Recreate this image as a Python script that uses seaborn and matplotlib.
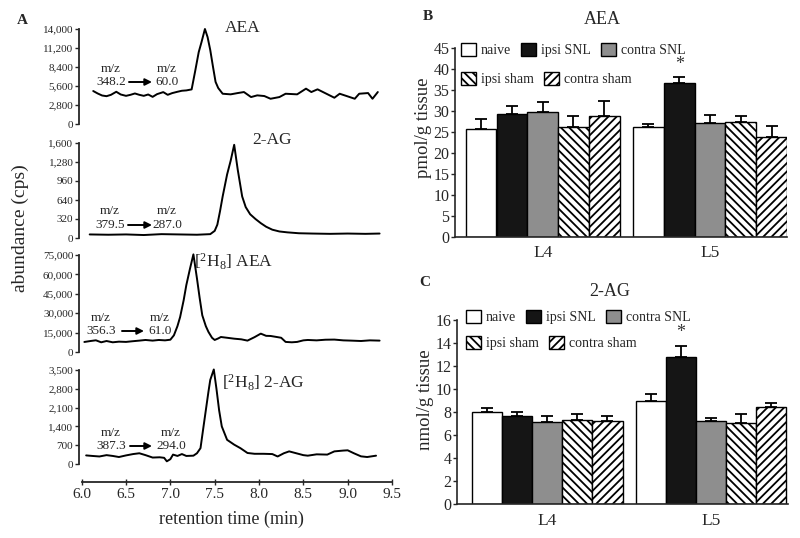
import numpy as np
import pandas as pd
import seaborn as sns
import matplotlib.pyplot as plt
from matplotlib.patches import Patch
from matplotlib.ticker import FuncFormatter

W, H = 800, 538

# ---- panel A: chromatograms (retention time in min, abundance in cps) ----
aea_t = [6.13, 6.18, 6.23, 6.28, 6.33, 6.39, 6.44, 6.50, 6.55, 6.60, 6.65, 6.70,
         6.75, 6.80, 6.85, 6.92, 6.97, 7.02, 7.08, 7.13, 7.18, 7.24, 7.28, 7.32,
         7.35, 7.39, 7.42, 7.45, 7.48, 7.51, 7.54, 7.59, 7.68, 7.76, 7.83, 7.91,
         7.98, 8.06, 8.13, 8.23, 8.30, 8.43, 8.53, 8.59, 8.66, 8.76, 8.85, 8.91,
         9.00, 9.08, 9.13, 9.23, 9.28, 9.34]
aea_cps = [4860, 4500, 4200, 4100, 4300, 4750, 4350, 4150, 4300, 4500, 4300, 4150,
           4350, 4000, 4400, 4700, 4300, 4550, 4750, 4900, 4950, 5100, 7800, 10600,
           12000, 14000, 12800, 10900, 8500, 6200, 5300, 4460, 4370, 4560, 4710, 3970,
           4220, 4120, 3720, 3970, 4460, 4370, 5210, 4710, 5110, 4460, 3870, 4460,
           4070, 3720, 4460, 4560, 3720, 4710]

ag_t = [6.09, 6.30, 6.50, 6.70, 6.90, 7.10, 7.30, 7.45, 7.50, 7.53, 7.56, 7.59,
        7.64, 7.68, 7.72, 7.76, 7.81, 7.85, 7.90, 7.96, 8.02, 8.08, 8.15, 8.23,
        8.32, 8.45, 8.60, 8.80, 9.00, 9.20, 9.36]
ag_cps = [60, 55, 60, 50, 65, 60, 55, 65, 120, 225, 450, 700,
          1070, 1300, 1570, 1150, 700, 520, 400, 320, 250, 190, 140, 110,
          95, 80, 75, 70, 75, 70, 75]

d_aea_t = [6.03, 6.10, 6.16, 6.22, 6.28, 6.35, 6.42, 6.50, 6.57, 6.65, 6.72, 6.80,
           6.87, 6.94, 7.00, 7.04, 7.08, 7.11, 7.15, 7.18, 7.22, 7.26, 7.30, 7.33,
           7.36, 7.40, 7.43, 7.47, 7.50, 7.54, 7.57, 7.64, 7.72, 7.80, 7.87, 7.95,
           8.02, 8.08, 8.13, 8.20, 8.25, 8.30, 8.37, 8.43, 8.50, 8.55, 8.65, 8.75,
           8.85, 8.95, 9.04, 9.15, 9.25, 9.36]
d_aea_cps = [7760, 8500, 9050, 7500, 8500, 7500, 8000, 7800, 8300, 8800, 9300, 8800,
             9300, 9000, 9500, 12900, 20000, 27000, 40000, 51700, 64000, 75500, 56900, 42000,
             28400, 20000, 15500, 11000, 9300, 10500, 11600, 11000, 10300, 9800, 8800, 11500,
             14200, 12500, 12400, 11600, 11000, 7800, 7500, 7800, 9000, 9300, 9000, 9500,
             9600, 9000, 8800, 8500, 9000, 8800]

d_ag_t = [6.05, 6.12, 6.20, 6.28, 6.35, 6.42, 6.50, 6.58, 6.65, 6.72, 6.80, 6.88,
          6.93, 6.96, 7.00, 7.03, 7.08, 7.13, 7.18, 7.26, 7.30, 7.34, 7.37, 7.40,
          7.43, 7.45, 7.49, 7.52, 7.55, 7.58, 7.64, 7.72, 7.79, 7.87, 7.95, 8.05,
          8.15, 8.21, 8.28, 8.34, 8.42, 8.50, 8.55, 8.65, 8.77, 8.85, 8.95, 9.00,
          9.07, 9.15, 9.22, 9.32]
d_ag_cps = [320, 300, 280, 330, 300, 260, 320, 370, 400, 330, 240, 250,
            230, 100, 180, 350, 300, 370, 300, 310, 400, 590, 1300, 2000,
            2700, 3130, 3520, 2800, 2000, 1400, 900, 720, 590, 410, 380, 380,
            370, 280, 400, 470, 400, 330, 310, 360, 350, 470, 500, 510,
            400, 285, 260, 310]

trace_titles = ["AEA", "2-AG",
                r"[$\mathregular{^2}$H$\mathregular{_8}$] AEA",
                r"[$\mathregular{^2}$H$\mathregular{_8}$] 2-AG"]
trace_ymax = [14000, 1600, 75000, 3500]
precursor = ["348.2", "379.5", "356.3", "387.3"]
product = ["60.0", "287.0", "61.0", "294.0"]

# ---- panels B and C: bars ----
groups = ["naive", "ipsi SNL", "contra SNL", "ipsi sham", "contra sham"]
levels = ["L4", "L5"]
aea_l4 = [25.8, 29.3, 29.7, 26.3, 28.9]
aea_l5 = [26.3, 36.8, 27.3, 27.4, 23.9]
aea_l4_err = [2.3, 1.9, 2.6, 2.6, 3.5]
aea_l5_err = [0.7, 1.4, 1.8, 1.5, 2.6]
ag2_l4 = [8.0, 7.7, 7.18, 7.33, 7.24]
ag2_l5 = [8.98, 12.78, 7.24, 7.1, 8.49]
ag2_l4_err = [0.4, 0.35, 0.52, 0.52, 0.46]
ag2_l5_err = [0.61, 1.0, 0.29, 0.75, 0.34]

face = {"naive": "white", "ipsi SNL": "#151515", "contra SNL": "#8e8e8e",
        "ipsi sham": "white", "contra sham": "white"}
hatch = {"naive": "", "ipsi SNL": "", "contra SNL": "",
         "ipsi sham": "\\\\\\\\", "contra sham": "////"}

sns.set_style("ticks")
plt.rcParams["font.family"] = ["Liberation Serif", "DejaVu Serif"]
plt.rcParams["mathtext.fontset"] = "custom"
plt.rcParams["mathtext.rm"] = "Liberation Serif"
plt.rcParams["hatch.linewidth"] = 1.3


def fx(x):
    return x / W


def fy(y):
    return 1 - y / H


def box(left, top, right, bottom):
    return [fx(left), fy(bottom), (right - left) / W, (bottom - top) / H]


fig = plt.figure(figsize=(8, 5.38), dpi=100)

# panel A
tops = [29, 143, 255, 370]
bottoms = [124, 238, 352, 464]
traces = [(aea_t, aea_cps), (ag_t, ag_cps), (d_aea_t, d_aea_cps), (d_ag_t, d_ag_cps)]
title_pos = [(243, 28, "center"), (272, 140, "center"), (194, 262, "left"), (222, 383, "left")]
mz_pos = [(111, 69, 82, 129, 152, 167),
          (110, 211, 225, 128, 152, 167),
          (101, 318, 331, 122, 144, 160),
          (111, 433, 446, 130, 152, 171)]
comma = FuncFormatter(lambda v, p: f"{v:,.0f}")

for i, (t, v) in enumerate(traces):
    ax = fig.add_axes(box(81.7, tops[i], 392, bottoms[i]))
    sns.lineplot(x=t, y=v, ax=ax, color="black", linewidth=1.4)
    for ln in ax.lines:
        ln.set_clip_on(False)
    ymax = trace_ymax[i]
    ax.set_xlim(6.0, 9.5)
    ax.set_ylim(0, ymax)
    ax.set_yticks(np.linspace(0, ymax, 6))
    ax.yaxis.set_major_formatter(comma)
    ax.tick_params(axis="y", direction="out", length=3, width=1, labelsize=8, pad=1)
    ax.spines["left"].set_position(("outward", 2))
    ax.spines["left"].set_linewidth(1.3)
    ax.spines["top"].set_visible(False)
    ax.spines["right"].set_visible(False)
    ax.set_xlabel("")
    ax.set_ylabel("")
    if i < 3:
        ax.spines["bottom"].set_visible(False)
        ax.set_xticks([])
    else:
        ax.spines["bottom"].set_position(("outward", 13))
        ax.spines["bottom"].set_linewidth(1.3)
        ax.set_xticks(np.arange(6.0, 9.51, 0.5))
        ax.xaxis.set_major_formatter(FuncFormatter(lambda v, p: f"{v:.1f}"))
        ax.tick_params(axis="x", direction="inout", length=5, width=1, labelsize=11, pad=2)
    tx, ty, ha = title_pos[i]
    fig.text(fx(tx), fy(ty), trace_titles[i], ha=ha, va="center", fontsize=12.5)
    xa, y1, y2, a0, a1, xb = mz_pos[i]
    fig.text(fx(xa), fy(y1), "m/z", ha="center", va="center", fontsize=9.5)
    fig.text(fx(xa), fy(y2), precursor[i], ha="center", va="center", fontsize=9.5)
    fig.text(fx(xb), fy(y1), "m/z", ha="center", va="center", fontsize=9.5)
    fig.text(fx(xb), fy(y2), product[i], ha="center", va="center", fontsize=9.5)
    ax.annotate("", xy=(fx(a1), fy(y2)), xytext=(fx(a0), fy(y2)),
                xycoords="figure fraction", textcoords="figure fraction",
                arrowprops=dict(arrowstyle="-|>", color="black", lw=1.4,
                                mutation_scale=10, shrinkA=0, shrinkB=0))

fig.text(fx(22), fy(20), "A", fontsize=11, fontweight="bold", ha="center", va="center")
fig.text(fx(20), fy(228), "abundance (cps)", rotation=90, ha="center", va="center", fontsize=14)
fig.text(fx(231), fy(519), "retention time (min)", ha="center", va="center", fontsize=13)


def bar_panel(rect, l4, l5, e4, e5, ymax, step, xlim, ylabel, ylab_pos,
              letter, letter_pos, title, title_pos, leg_rows):
    ax = fig.add_axes(rect)
    df = pd.DataFrame({
        "level": [lv for lv in levels for g in groups],
        "group": groups * 2,
        "value": l4 + l5,
    })
    sns.barplot(data=df, x="level", y="value", hue="group", hue_order=groups,
                order=levels, palette=face, saturation=1, width=0.92, gap=0,
                edgecolor="black", linewidth=1, errorbar=None, legend=False, ax=ax)
    errs = {"L4": e4, "L5": e5}
    bar_sets = list(ax.containers)
    for gi, cont in enumerate(bar_sets):
        g = groups[gi]
        for li, bar in enumerate(cont):
            bar.set_hatch(hatch[g])
            bar.set_edgecolor("black")
            xc = bar.get_x() + bar.get_width() / 2
            top = bar.get_height()
            err = errs[levels[li]][gi]
            ax.errorbar(xc, top, yerr=[[0], [err]], fmt="none", ecolor="black",
                        elinewidth=1.3, capsize=4, capthick=1.3, zorder=1)
            if g == "ipsi SNL" and levels[li] == "L5":
                ax.annotate("*", (xc, top + err), xytext=(0, 3), textcoords="offset points",
                            ha="center", va="bottom", fontsize=13, color="#333333")
    ax.set_xlim(*xlim)
    ax.set_ylim(0, ymax)
    ax.set_yticks(np.arange(0, ymax + 0.1, step))
    ax.tick_params(axis="y", direction="out", length=3, width=1, labelsize=11.5, pad=1)
    ax.tick_params(axis="x", length=0, labelsize=12.5, pad=6)
    for s in ["top", "right"]:
        ax.spines[s].set_visible(False)
    ax.spines["left"].set_linewidth(1.2)
    ax.spines["bottom"].set_linewidth(1.2)
    ax.set_xlabel("")
    ax.set_ylabel("")
    fig.text(fx(ylab_pos[0]), fy(ylab_pos[1]), ylabel, rotation=90,
             ha="center", va="center", fontsize=13.5)
    fig.text(fx(letter_pos[0]), fy(letter_pos[1]), letter, fontsize=11,
             fontweight="bold", ha="center", va="center")
    fig.text(fx(title_pos[0]), fy(title_pos[1]), title, fontsize=13,
             ha="center", va="center")
    for names, (lx, ly) in leg_rows:
        handles = [Patch(facecolor=face[n], edgecolor="black", hatch=hatch[n]) for n in names]
        fig.legend(handles, names, loc="center left", bbox_to_anchor=(fx(lx), fy(ly)),
                   ncol=len(names), frameon=False, fontsize=10, handlelength=1.1,
                   handleheight=1.1, handletextpad=0.35, columnspacing=0.7,
                   borderpad=0, borderaxespad=0)
    return ax


bar_panel(box(455, 48.3, 787, 237), aea_l4, aea_l5, aea_l4_err, aea_l5_err, 45, 5,
          (-0.524, 1.46), "pmol/g tissue", (424, 128), "B", (428, 16), "AEA", (602, 20),
          [(groups[:3], (461, 50)), (groups[3:], (461, 79))])
bar_panel(box(457, 320, 788, 504.3), ag2_l4, ag2_l5, ag2_l4_err, ag2_l5_err, 16, 2,
          (-0.55, 1.47), "nmol/g tissue", (425, 400), "C", (425, 283), "2-AG", (610, 292),
          [(groups[:3], (466, 317)), (groups[3:], (466, 343))])

fig.savefig("out.png", dpi=100)
